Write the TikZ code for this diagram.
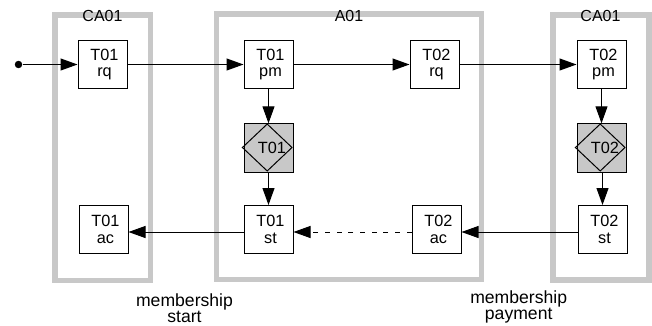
\documentclass[tikz,border=0pt]{standalone}
\usepackage{fontspec}
\setmainfont{Liberation Sans}
\usetikzlibrary{arrows.meta,shapes.geometric,calc}
\definecolor{framegray}{RGB}{200,200,200}
\definecolor{fillgray}{RGB}{200,200,200}
\newcommand\actxt[2]{\kern3pt#1\\\kern3pt#2}
\begin{document}
\begin{tikzpicture}[x=0.75pt,y=-0.75pt,
  container/.style={draw=framegray,line width=4.1pt},
  act/.style={draw,fill=white,line width=0.75pt,minimum width=36.75pt,minimum height=36pt,inner sep=0pt,align=center,font=\fontsize{12.2}{12.4}\selectfont},
  sqbox/.style={draw,fill=fillgray,line width=0.75pt,minimum width=36.75pt,minimum height=36.75pt,inner sep=0pt,font=\fontsize{12.2}{12.4}\selectfont},
  dia/.style={draw,diamond,line width=0.75pt,minimum width=37.5pt,minimum height=35.5pt,inner sep=0pt},
  arr/.style={line width=0.75pt,-{Triangle[length=12.75pt,width=9pt]}},
  dashedarr/.style={arr,dash pattern=on 3.75pt off 5pt},
  title/.style={font=\fontsize{12}{14}\selectfont,anchor=base,inner sep=0pt},
  note/.style={font=\fontsize{13.2}{10.9}\selectfont,align=center,anchor=north,inner sep=0pt}]
\useasboundingbox (0,0) rectangle (652,325);
% containers
\draw[container] (55,15) rectangle (150.5,280.5);
\draw[container] (216.5,14) rectangle (481.5,279.5);
\draw[container] (553,15) rectangle (649,280);
\node[title] (tca1) at (102.5,21.7) {CA01};
\node[title] (ta1) at (349,21.7) {A01};
\node[title] (tca2) at (600.5,21.7) {CA01};
% acts
\node[act] (rq1) at (102.5,64.5) {\actxt{T01}{rq}};
\node[act] (pm1) at (268.5,64.5) {\actxt{T01}{pm}};
\node[act] (rq2) at (434.5,64.5) {\actxt{T02}{rq}};
\node[act] (pm2) at (601.5,64.5) {\actxt{T02}{pm}};
\node[act] (ac1) at (103.5,229.5) {\actxt{T01}{ac}};
\node[act] (st1) at (268.5,229.5) {\actxt{T01}{st}};
\node[act] (ac2) at (436.5,229.5) {\actxt{T02}{ac}};
\node[act] (st2) at (602.5,229.5) {\actxt{T02}{st}};
% transaction symbols
\node[sqbox] (sq1) at (268.5,147.5) {\kern5pt T01};
\node[dia] (d1) at (267.2,147.5) {};
\node[sqbox] (sq2) at (601.5,147.5) {\kern5pt T02};
\node[dia] (d2) at (600.2,147.5) {};
% start
\node[circle,fill,inner sep=0pt,minimum size=5.6pt] (start) at (18.5,64.5) {};
% connectors
\draw[arr] (start) -- (rq1.west);
\draw[arr] (rq1.east) -- (pm1.west);
\draw[arr] (pm1.east) -- (rq2.west);
\draw[arr] (rq2.east) -- (pm2.west);
\draw[arr] (pm1.south) -- (pm1.south |- d1.north);
\draw[arr] (sq1.south) -- (st1.north);
\draw[arr] (pm2.south) -- (pm2.south |- d2.north);
\draw[arr] (st2.north |- sq2.south) -- (st2.north);
\draw[arr] ($(st1.west)+(0,2.5)$) -- ($(ac1.east)+(0,2.5)$);
\draw[dashedarr] ($(ac2.west)+(0,2.5)$) -- ($(st1.east)+(0,2.5)$);
\draw[arr] ($(st2.west)+(0,2.5)$) -- ($(ac2.east)+(0,2.5)$);
% notes
\node[note] (n1) at (184.5,293.3) {membership\\start};
\node[note] (n2) at (518.7,290) {membership\\payment};
\end{tikzpicture}
\end{document}
